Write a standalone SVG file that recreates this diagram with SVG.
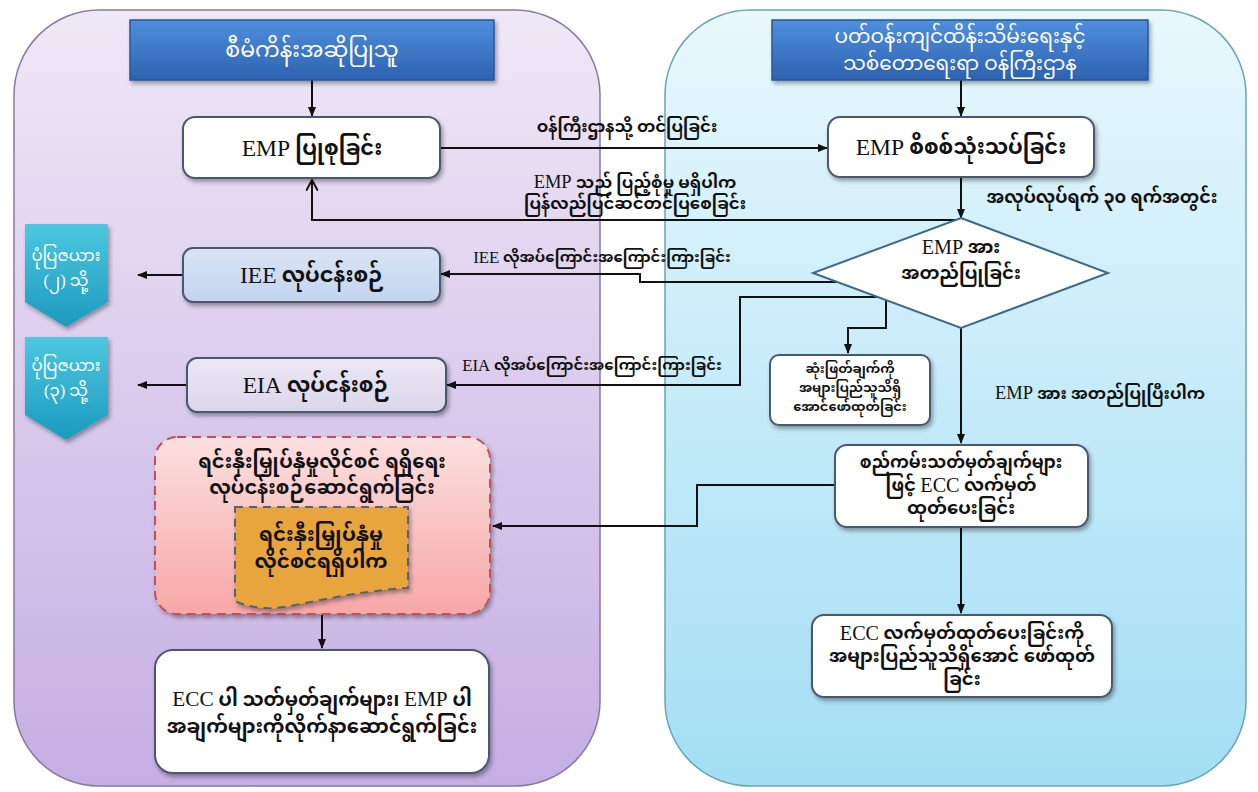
<svg xmlns="http://www.w3.org/2000/svg" width="1258" height="792" viewBox="0 0 1258 792">
<defs>
  <linearGradient id="gLeft" x1="0" y1="0" x2="0" y2="1">
    <stop offset="0" stop-color="#efe8f6"/>
    <stop offset="1" stop-color="#c5aee3"/>
  </linearGradient>
  <linearGradient id="gRight" x1="0" y1="0" x2="0" y2="1">
    <stop offset="0" stop-color="#e8f8fd"/>
    <stop offset="1" stop-color="#a3def4"/>
  </linearGradient>
  <linearGradient id="gHead" x1="0" y1="0" x2="0" y2="1">
    <stop offset="0" stop-color="#4f8fdc"/>
    <stop offset="1" stop-color="#2d62b0"/>
  </linearGradient>
  <linearGradient id="gTeal" x1="0" y1="0" x2="0" y2="1">
    <stop offset="0" stop-color="#4cc8e0"/>
    <stop offset="1" stop-color="#1c9abd"/>
  </linearGradient>
  <linearGradient id="gIEE" x1="0" y1="0" x2="0" y2="1">
    <stop offset="0" stop-color="#d9e5f5"/>
    <stop offset="1" stop-color="#c2d4ee"/>
  </linearGradient>
  <linearGradient id="gEIA" x1="0" y1="0" x2="0" y2="1">
    <stop offset="0" stop-color="#ebe7f4"/>
    <stop offset="1" stop-color="#dcd6ec"/>
  </linearGradient>
  <linearGradient id="gRed" x1="0" y1="0" x2="0" y2="1">
    <stop offset="0" stop-color="#fbe0df"/>
    <stop offset="1" stop-color="#f7a7a7"/>
  </linearGradient>
  <filter id="sh" x="-10%" y="-10%" width="130%" height="140%">
    <feDropShadow dx="2" dy="3" stdDeviation="2" flood-color="#000" flood-opacity="0.35"/>
  </filter>
  <marker id="ah" markerWidth="10" markerHeight="10" refX="9" refY="5" orient="auto" markerUnits="userSpaceOnUse">
    <path d="M0,1 L10,5 L0,9 Z" fill="#111"/>
  </marker>
  <marker id="av" markerWidth="12" markerHeight="12" refX="11" refY="6" orient="auto" markerUnits="userSpaceOnUse">
    <path d="M0,0 L11,6 L0,12" fill="none" stroke="#111" stroke-width="2"/>
  </marker>
  <style>
    text { font-family: "Liberation Serif", "Noto Sans Myanmar", "Noto Serif Myanmar", "Padauk", "Myanmar Text", serif; fill: #111; text-anchor: middle; dominant-baseline: central; font-weight: bold; }
    .lat { font-weight: normal; font-size: 1.12em; }
    .w { fill: #ffffff; font-weight: normal; }
    .box { fill: #ffffff; stroke: #4a5870; stroke-width: 2; }
    .head { fill: url(#gHead); stroke: #2a5797; stroke-width: 1.5; }
    .t20 { font-size: 21px; }
    .t18 { font-size: 18px; }
    .t16 { font-size: 16.5px; }
    .t14 { font-size: 13px; }
    .t15 { font-size: 15px; }
    .conn path { fill: none; stroke: #111; stroke-width: 2; }
  </style>
</defs>

<rect width="1258" height="792" fill="#ffffff"/>

<g id="panel-left">
  <rect x="14" y="10" width="586" height="776" rx="85" fill="url(#gLeft)" stroke="#8878a0" stroke-width="1.5"/>
</g>
<g id="panel-right">
  <rect x="665" y="10" width="581" height="776" rx="85" fill="url(#gRight)" stroke="#6aa4b4" stroke-width="1.5"/>
</g>

<g class="conn" id="connectors">
  <path d="M312,80 V116" marker-end="url(#ah)"/>
  <path d="M440,148 H827" marker-end="url(#ah)"/>
  <path d="M961,80 V116" marker-end="url(#ah)"/>
  <path d="M961,177 V218" marker-end="url(#ah)"/>
  <path d="M961,220 H312 V180" marker-end="url(#av)"/>
  <path d="M837,282 H640 V274 H441" marker-end="url(#ah)"/>
  <path d="M878,297 H740 V385 H447" marker-end="url(#ah)"/>
  <path d="M886,300 V328 H848 V353" marker-end="url(#ah)"/>
  <path d="M961,328 V443" marker-end="url(#ah)"/>
  <path d="M835,485 H697 V526 H493" marker-end="url(#ah)"/>
  <path d="M961,527 V613" marker-end="url(#ah)"/>
  <path d="M322,615 V648" marker-end="url(#ah)"/>
  <path d="M183,275 H138" marker-end="url(#ah)"/>
  <path d="M187,385 H138" marker-end="url(#ah)"/>
</g>

<g id="edge-labels">
  <text class="t16" x="627" y="126">ဝန်ကြီးဌာနသို့ တင်ပြခြင်း</text>
  <text class="t16" x="635" y="182"><tspan class="lat">EMP</tspan> သည် ပြည့်စုံမှု မရှိပါက</text>
  <text class="t16" x="635" y="203">ပြန်လည်ပြင်ဆင်တင်ပြစေခြင်း</text>
  <text class="t16" x="1102" y="197" style="font-size:17.5px">အလုပ်လုပ်ရက် ၃၀ ရက်အတွင်း</text>
  <text class="t15" x="602" y="257"><tspan class="lat">IEE</tspan> လိုအပ်ကြောင်းအကြောင်းကြားခြင်း</text>
  <text class="t15" x="592" y="365"><tspan class="lat">EIA</tspan> လိုအပ်ကြောင်းအကြောင်းကြားခြင်း</text>
  <text class="t16" x="1100" y="393"><tspan class="lat">EMP</tspan> အား အတည်ပြုပြီးပါက</text>
</g>

<g id="header-left">
  <rect class="head" x="130" y="20" width="364" height="60" filter="url(#sh)"/>
  <text class="w" x="312" y="49" style="font-size:22px">စီမံကိန်းအဆိုပြုသူ</text>
</g>
<g id="header-right">
  <rect class="head" x="772" y="20" width="376" height="60" filter="url(#sh)"/>
  <text class="w" x="960" y="36" style="font-size:20px">ပတ်ဝန်းကျင်ထိန်းသိမ်းရေးနှင့်</text>
  <text class="w" x="960" y="63" style="font-size:20px">သစ်တောရေးရာ ဝန်ကြီးဌာန</text>
</g>

<g id="node-emp-prepare">
  <rect class="box" x="183" y="117" width="257" height="61" rx="12" filter="url(#sh)"/>
  <text class="t20" x="312" y="148"><tspan class="lat">EMP</tspan> ပြုစုခြင်း</text>
</g>
<g id="node-emp-review">
  <rect class="box" x="828" y="117" width="266" height="60" rx="12" filter="url(#sh)"/>
  <text class="t20" x="961" y="147"><tspan class="lat">EMP</tspan> စိစစ်သုံးသပ်ခြင်း</text>
</g>
<g id="node-decision">
  <polygon points="961,218 1108,273 961,328 813,273" fill="#ffffff" stroke="#3d6a8a" stroke-width="2"/>
  <text class="t18" x="961" y="247"><tspan class="lat">EMP</tspan> အား</text>
  <text class="t18" x="961" y="273">အတည်ပြုခြင်း</text>
</g>
<g id="node-iee">
  <rect x="183" y="248" width="257" height="54" rx="10" fill="url(#gIEE)" stroke="#4a5870" stroke-width="2" filter="url(#sh)"/>
  <text class="t20" x="312" y="275"><tspan class="lat">IEE</tspan> လုပ်ငန်းစဉ်</text>
</g>
<g id="node-eia">
  <rect x="187" y="358" width="259" height="54" rx="10" fill="url(#gEIA)" stroke="#4a5870" stroke-width="2" filter="url(#sh)"/>
  <text class="t20" x="316" y="385"><tspan class="lat">EIA</tspan> လုပ်ငန်းစဉ်</text>
</g>
<g id="node-chart2">
  <path d="M25,224 H108 V302 L66,327 L25,302 Z" fill="url(#gTeal)" filter="url(#sh)"/>
  <text class="t16 w" x="66" y="255">ပုံပြဇယား</text>
  <text class="t16 w" x="66" y="280">(၂) သို့</text>
</g>
<g id="node-chart3">
  <path d="M25,337 H108 V415 L66,440 L25,415 Z" fill="url(#gTeal)" filter="url(#sh)"/>
  <text class="t16 w" x="66" y="365">ပုံပြဇယား</text>
  <text class="t16 w" x="66" y="390">(၃) သို့</text>
</g>
<g id="node-publish-decision">
  <rect class="box" x="770" y="355" width="160" height="70" rx="9" filter="url(#sh)"/>
  <text class="t14" x="850" y="368">ဆုံးဖြတ်ချက်ကို</text>
  <text class="t14" x="850" y="387">အများပြည်သူသိရှိ</text>
  <text class="t14" x="850" y="406">အောင်ဖော်ထုတ်ခြင်း</text>
</g>
<g id="node-ecc-issue">
  <rect class="box" x="835" y="445" width="253" height="82" rx="12" filter="url(#sh)"/>
  <text class="t18" x="961" y="462" style="font-size:17px">စည်ကမ်းသတ်မှတ်ချက်များ</text>
  <text class="t18" x="961" y="485">ဖြင့် <tspan class="lat">ECC</tspan> လက်မှတ်</text>
  <text class="t18" x="961" y="508">ထုတ်ပေးခြင်း</text>
</g>
<g id="node-ecc-publish">
  <rect class="box" x="812" y="615" width="300" height="82" rx="12" filter="url(#sh)"/>
  <text class="t18" x="962" y="633"><tspan class="lat">ECC</tspan> လက်မှတ်ထုတ်ပေးခြင်းကို</text>
  <text class="t18" x="962" y="656">အများပြည်သူသိရှိအောင် ဖော်ထုတ်</text>
  <text class="t18" x="962" y="679">ခြင်း</text>
</g>
<g id="node-investment">
  <rect x="155" y="437" width="335" height="177" rx="22" fill="url(#gRed)" stroke="#c0505c" stroke-width="2" stroke-dasharray="9,6" filter="url(#sh)"/>
  <text x="322" y="461" style="font-size:19.5px">ရင်းနှီးမြှုပ်နှံမှုလိုင်စင် ရရှိရေး</text>
  <text x="322" y="487" style="font-size:19.5px">လုပ်ငန်းစဉ်ဆောင်ရွက်ခြင်း</text>
</g>
<g id="node-license">
  <path d="M235,507 H408 V588 C370,590 330,598 290,606 C265,611 248,607 235,601 Z" fill="#e8a53e" stroke="#56606e" stroke-width="2" stroke-dasharray="8,6" filter="url(#sh)"/>
  <text x="321" y="534" style="font-size:20px">ရင်းနှီးမြှုပ်နှံမှု</text>
  <text x="321" y="561" style="font-size:20px">လိုင်စင်ရရှိပါက</text>
</g>
<g id="node-comply">
  <rect class="box" x="155" y="650" width="334" height="123" rx="18" filter="url(#sh)"/>
  <text x="322" y="699" style="font-size:19px"><tspan class="lat">ECC</tspan> ပါ သတ်မှတ်ချက်များ၊ <tspan class="lat">EMP</tspan> ပါ</text>
  <text x="322" y="726" style="font-size:19.5px">အချက်များကိုလိုက်နာဆောင်ရွက်ခြင်း</text>
</g>
</svg>
